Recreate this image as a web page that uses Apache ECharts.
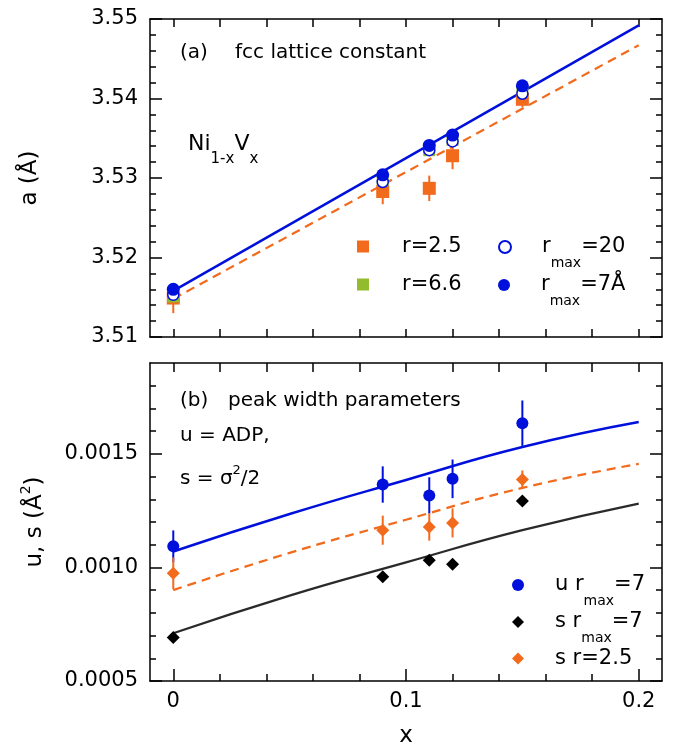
<!DOCTYPE html>
<html>
<head>
<meta charset="utf-8">
<script src="https://cdn.jsdelivr.net/npm/echarts@6/dist/echarts.min.js"></script>
<style>
    html, body {margin: 0; padding: 0; background: #fff;}
    #chart {width: 673px; height: 749px;}
</style>
</head>
<body>
<div id="chart"></div>
<script>
// x (V fraction) of the samples
var xValues = [0, 0.09, 0.11, 0.12, 0.15];

// (a) lattice constant, Å
var aR25 = [3.5149, 3.5283, 3.5287, 3.5328, 3.5399];
var aR25Err = [0.0019, 0.0016, 0.0016, 0.0017, 0.0010];
var aR66 = [3.5151, 3.5297, 3.5335, 3.5348, 3.5410];
var aRmax20 = [3.5153, 3.5295, 3.5335, 3.5346, 3.5406];
var aRmax7 = [3.5160, 3.5304, 3.5341, 3.5354, 3.5416];

// (a) straight fits
var aFitX = [0, 0.2];
var aFitRmax7 = [3.5158, 3.5492];
var aFitR25 = [3.5148, 3.5467];

// (b) peak width parameters, Å^2
var uRmax7 = [0.001093, 0.001365, 0.001317, 0.001390, 0.001635];
var uRmax7Err = [0.00007, 0.00008, 0.00008, 0.000085, 0.0001];
var sRmax7 = [0.000692, 0.000959, 0.001032, 0.001014, 0.001293];
var sR25 = [0.000974, 0.001164, 0.001178, 0.001196, 0.001387];
var sR25Err = [0.00007, 0.000064, 0.00006, 0.000064, 0.00004];

// (b) fit curves
var bFitX = [0, 0.05, 0.1, 0.15, 0.2];
var bFitU = [0.00107, 0.001235, 0.001385, 0.00153, 0.00164];
var bFitS25 = [0.0009, 0.001064, 0.00121, 0.00135, 0.001456];
var bFitS7 = [0.00071, 0.000876, 0.001022, 0.001164, 0.001281];

// ticks
var xTickLabels = [0, 0.1, 0.2];
var xTicksAll = [0, 0.02, 0.04, 0.06, 0.08, 0.1, 0.12, 0.14, 0.16, 0.18, 0.2];
var aTickLabels = [3.51, 3.52, 3.53, 3.54, 3.55];
var aMinorTicks = [];
var bTickLabels = [0.0005, 0.0010, 0.0015];
var bMinorTicks = [];
for (var i = 0; i < 20; i++) {
    aMinorTicks.push(+(3.51 + i * 0.002).toFixed(3));
}
for (var j = 0; j < 14; j++) {
    bMinorTicks.push(+(0.0005 + j * 0.0001).toFixed(4));
}

var FONT = 'DejaVu Sans';
var BLUE = '#0010dc';
var ORANGE = '#f26a1c';
var GREEN = '#93bb2e';
var BLACK = '#000';

function pairs(xs, ys) {
    return xs.map(function (x, k) {
        return [x, ys[k]];
    });
}

/**
 * 误差棒
 */
function errorBars(xi, yi, xs, ys, es, color) {
    return {
        type: 'custom',
        xAxisIndex: xi,
        yAxisIndex: yi,
        silent: true,
        z: 3,
        data: xs.map(function (x, k) {
            return [x, ys[k] - es[k], ys[k] + es[k]];
        }),
        encode: {x: 0, y: [1, 2]},
        renderItem: function (params, api) {
            var lo = api.coord([api.value(0), api.value(1)]);
            var hi = api.coord([api.value(0), api.value(2)]);
            return {
                type: 'line',
                shape: {x1: lo[0], y1: lo[1], x2: hi[0], y2: hi[1]},
                style: {stroke: color, lineWidth: 2}
            };
        }
    };
}

function xAxis(grid, pos, ticks, len, labels, extra) {
    var ax = {
        type: 'value', gridIndex: grid, position: pos, min: -0.01, max: 0.21,
        axisLine: {show: !!extra.line, onZero: false, lineStyle: {color: '#000', width: 1.5}},
        axisTick: {show: true, inside: true, length: len, customValues: ticks, lineStyle: {color: '#000', width: 1.5}},
        axisLabel: {show: !!labels, customValues: labels || [], margin: 10, fontFamily: FONT, fontSize: 21, color: '#000'},
        splitLine: {show: false}
    };
    if (extra.name) {
        ax.name = extra.name;
        ax.nameLocation = 'middle';
        ax.nameGap = 44;
        ax.nameTextStyle = {fontFamily: FONT, fontSize: 23, color: '#000'};
    }
    return ax;
}

function yAxis(grid, pos, min, max, ticks, len, labels, extra) {
    var ax = {
        type: 'value', gridIndex: grid, position: pos, min: min, max: max,
        axisLine: {show: !!extra.line, onZero: false, lineStyle: {color: '#000', width: 1.5}},
        axisTick: {show: true, inside: true, length: len, customValues: ticks, lineStyle: {color: '#000', width: 1.5}},
        axisLabel: {
            show: !!labels, customValues: labels || [], margin: 12,
            fontFamily: FONT, fontSize: 21, color: '#000',
            formatter: function (v) {
                return v.toFixed(extra.digits || 2);
            }
        },
        splitLine: {show: false}
    };
    if (extra.name) {
        ax.name = extra.name;
        ax.nameLocation = 'middle';
        ax.nameRotate = 90;
        ax.nameGap = extra.nameGap;
        ax.nameTextStyle = {
            fontFamily: FONT, fontSize: 23, color: '#000',
            rich: {
                m: {fontFamily: FONT, fontSize: 23, color: '#000'},
                sup: {fontFamily: FONT, fontSize: 14, color: '#000', padding: [0, 0, 18, 0]}
            }
        };
    }
    return ax;
}

var legendNames = {
    a25: '{a|r=2.5}',
    a66: '{a|r=6.6}',
    a20: '{a|r}{s|max}{m|=20}',
    a7: '{a|r}{s|max}{m|=7Å}',
    u7: '{a|u r}{s|max}{m|=7}',
    s7: '{a|s r}{s|max}{m|=7}',
    s25: '{a|s r=2.5}'
};

// 每个图例项单独放置
function legend(name, left, top, pad) {
    return {
        data: [name],
        orient: 'vertical',
        left: left,
        top: top,
        padding: 0,
        itemWidth: 12,
        itemHeight: 12,
        selectedMode: false,
        formatter: function (n) {
            return legendNames[n];
        },
        textStyle: {
            fontFamily: FONT, fontSize: 21, color: '#000', lineHeight: 20,
            rich: {
                a: {fontFamily: FONT, fontSize: 21, color: '#000', lineHeight: 20, padding: [0, 0, 0, pad]},
                m: {fontFamily: FONT, fontSize: 21, color: '#000', lineHeight: 20},
                s: {fontFamily: FONT, fontSize: 14, color: '#000', lineHeight: 20, padding: [32, 0, 0, 0]}
            }
        }
    };
}

function scatter(name, xi, yi, ys, symbol, size, z, style) {
    style.opacity = 1;
    return {
        name: name, type: 'scatter', xAxisIndex: xi, yAxisIndex: yi,
        data: pairs(xValues, ys), symbol: symbol, symbolSize: size, z: z,
        itemStyle: style
    };
}

function fitLine(xi, yi, xs, ys, color, dashed, width) {
    return {
        type: 'line', xAxisIndex: xi, yAxisIndex: yi, data: pairs(xs, ys),
        smooth: xs.length > 2, showSymbol: false, silent: true, z: 1,
        lineStyle: {color: color, width: width, type: dashed ? [9, 6] : 'solid'}
    };
}

var chart = echarts.init(document.getElementById('chart'), null, {renderer: 'canvas'});

var option = {
    animation: false,
    backgroundColor: '#fff',
    grid: [
        {left: 150, top: 19, width: 512, height: 318},
        {left: 150, top: 363, width: 512, height: 320}
    ],
    xAxis: [
        xAxis(0, 'bottom', xTicksAll, 8, null, {line: true}),
        xAxis(0, 'top', xTicksAll, 8, null, {line: true}),
        xAxis(1, 'bottom', xTickLabels, 12, xTickLabels, {line: true, name: 'x'}),
        xAxis(1, 'bottom', xTicksAll, 7, null, {}),
        xAxis(1, 'top', xTicksAll, 9, null, {line: true})
    ],
    yAxis: [
        yAxis(0, 'left', 3.51, 3.55, aTickLabels, 12, aTickLabels, {line: true, digits: 2, name: 'a (Å)', nameGap: 108}),
        yAxis(0, 'left', 3.51, 3.55, aMinorTicks, 6, null, {}),
        yAxis(0, 'right', 3.51, 3.55, aTickLabels, 12, null, {line: true}),
        yAxis(0, 'right', 3.51, 3.55, aMinorTicks, 6, null, {}),
        yAxis(1, 'left', 0.0005, 0.0019, bTickLabels, 12, bTickLabels, {line: true, digits: 4, name: '{m|u, s (Å}{sup|2}{m|)}', nameGap: 99}),
        yAxis(1, 'left', 0.0005, 0.0019, bMinorTicks, 6, null, {}),
        yAxis(1, 'right', 0.0005, 0.0019, bTickLabels, 12, null, {line: true}),
        yAxis(1, 'right', 0.0005, 0.0019, bMinorTicks, 6, null, {})
    ],
    legend: [
        legend('a25', 357, 236, 28),
        legend('a66', 357, 274, 28),
        legend('a20', 498, 224, 26),
        legend('a7', 498, 262, 26),
        legend('u7', 512, 562, 26),
        legend('s7', 512, 599, 26),
        legend('s25', 512, 648, 26)
    ],
    graphic: [
        {type: 'text', left: 180, top: 43, style: {text: '(a)', font: '20px "DejaVu Sans"', fill: '#000'}},
        {type: 'text', left: 235, top: 43, style: {text: 'fcc lattice constant', font: '20px "DejaVu Sans"', fill: '#000'}},
        {
            type: 'text', left: 188, top: 122,
            style: {
                text: '{m|Ni}{s|1-x}{m|V}{s|x}',
                rich: {
                    m: {fontFamily: FONT, fontSize: 22, fill: '#000', lineHeight: 26},
                    s: {fontFamily: FONT, fontSize: 15, fill: '#000', lineHeight: 26, padding: [30, 0, 0, 0]}
                }
            }
        },
        {type: 'text', left: 180, top: 391, style: {text: '(b)', font: '20px "DejaVu Sans"', fill: '#000'}},
        {type: 'text', left: 228, top: 391, style: {text: 'peak width parameters', font: '20px "DejaVu Sans"', fill: '#000'}},
        {type: 'text', left: 180, top: 426, style: {text: 'u = ADP,', font: '20px "DejaVu Sans"', fill: '#000'}},
        {
            type: 'text', left: 180, top: 464,
            style: {
                text: '{m|s = σ}{p|2}{m|/2}',
                rich: {
                    m: {fontFamily: FONT, fontSize: 20, fill: '#000', lineHeight: 26},
                    p: {fontFamily: FONT, fontSize: 13, fill: '#000', lineHeight: 26, padding: [0, 0, 16, 0]}
                }
            }
        }
    ],
    series: [
        // (a)
        fitLine(0, 0, aFitX, aFitR25, ORANGE, true, 2.2),
        fitLine(0, 0, aFitX, aFitRmax7, BLUE, false, 2.5),
        errorBars(0, 0, xValues, aR25, aR25Err, ORANGE),
        scatter('a25', 0, 0, aR25, 'rect', 13, 4, {color: ORANGE}),
        scatter('a66', 0, 0, aR66, 'rect', 12, 5, {color: GREEN}),
        scatter('a20', 0, 0, aRmax20, 'circle', 11, 6, {color: '#fff', borderColor: BLUE, borderWidth: 1.5}),
        scatter('a7', 0, 0, aRmax7, 'circle', 13, 7, {color: BLUE}),

        // (b)
        fitLine(2, 4, bFitX, bFitU, BLUE, false, 2.5),
        fitLine(2, 4, bFitX, bFitS25, ORANGE, true, 2.2),
        fitLine(2, 4, bFitX, bFitS7, '#2a2a2a', false, 2.2),
        errorBars(2, 4, xValues, uRmax7, uRmax7Err, BLUE),
        errorBars(2, 4, xValues, sR25, sR25Err, ORANGE),
        scatter('u7', 2, 4, uRmax7, 'circle', 12, 5, {color: BLUE}),
        scatter('s7', 2, 4, sRmax7, 'diamond', 13, 5, {color: BLACK}),
        scatter('s25', 2, 4, sR25, 'diamond', 13, 5, {color: ORANGE})
    ]
};

chart.setOption(option);
</script>
</body>
</html>
